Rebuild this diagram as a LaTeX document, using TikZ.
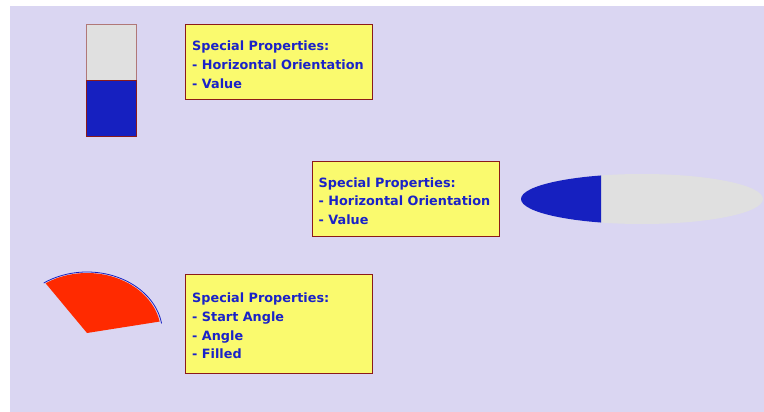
\documentclass[tikz,border=0pt]{standalone}
\usepackage{fontspec}
\setmainfont{DejaVu Sans}
\definecolor{lav}{HTML}{DAD6F2}
\definecolor{barfill}{HTML}{E0E0E0}
\definecolor{valblue}{HTML}{1620C0}
\definecolor{piered}{HTML}{FF2A00}
\definecolor{noteyellow}{HTML}{FAFA6E}
\definecolor{noteborder}{HTML}{8B1A1A}
\definecolor{textblue}{HTML}{1A22C8}
\definecolor{lightborder}{HTML}{B07878}
\tikzset{
  notebox/.style={draw=noteborder, line width=1.3pt, fill=noteyellow, anchor=north west, inner sep=0pt},
  notetext/.style={anchor=north west, inner sep=0pt, align=left, text=textblue,
    font=\fontsize{12.8}{18.6}\selectfont\bfseries},
}
\begin{document}
\begin{tikzpicture}[x=1pt,y=-1pt]
\useasboundingbox (0,0) rectangle (764,412);
\fill[lav] (10,6) rectangle (764,412);

% bar (vertical gauge)
\node[draw=lightborder, fill=barfill, line width=1pt, anchor=north west, inner sep=0pt,
      minimum width=50pt, minimum height=56pt] (bartop) at (86,24) {};
\node[draw=noteborder, fill=valblue, line width=1pt, anchor=north west, inner sep=0pt,
      minimum width=50pt, minimum height=56pt] (barbot) at (86,80.5) {};

% note 1
\node[notebox, minimum width=187pt, minimum height=75pt] (box1) at (185,24) {};
\node[notetext] (t1) at (192,41) {Special Properties:\\- Horizontal Orientation\\- Value};

% note 2
\node[notebox, minimum width=187pt, minimum height=75pt] (box2) at (312,161) {};
\node[notetext] (t2) at (318.5,177.3) {Special Properties:\\- Horizontal Orientation\\- Value};

% note 3
\node[notebox, minimum width=187pt, minimum height=98.5pt] (box3) at (185,274) {};
\node[notetext] (t3) at (192,293) {Special Properties:\\- Start Angle\\- Angle\\- Filled};

% ellipse gauge
\begin{scope}
  \fill[barfill] (642,199) ellipse [x radius=121pt, y radius=25pt];
  \clip (500,150) rectangle (601,250);
  \fill[valblue] (642,199) ellipse [x radius=121pt, y radius=25pt];
\end{scope}

% pie
\begin{scope}[shift={(87,333)}]
  \fill[piered] (0pt,0pt) -- (11:74pt and 60pt) arc[start angle=11, end angle=124, x radius=74pt, y radius=60pt] -- cycle;
  \draw[valblue, line width=0.8pt] (9:75.5pt and 61pt) arc[start angle=9, end angle=125, x radius=75.5pt, y radius=61pt];
\end{scope}
\end{tikzpicture}
\end{document}
